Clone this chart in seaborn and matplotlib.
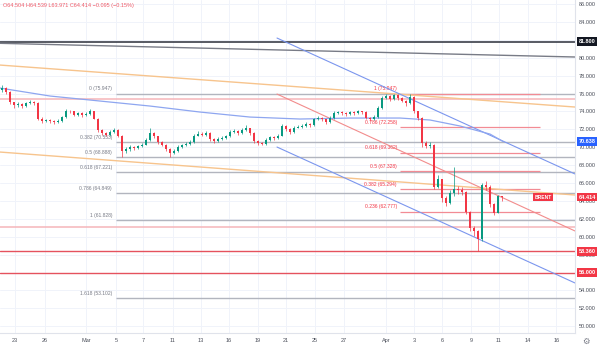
import matplotlib
matplotlib.use("Agg")
import numpy as np
import pandas as pd
import matplotlib.pyplot as plt
import seaborn as sns
from matplotlib.transforms import blended_transform_factory

# ---------------- data ----------------
closes = [76.6, 76.2, 75.0, 74.7, 74.8, 74.6, 74.9, 75.0, 74.9, 73.2,
          72.9, 73.0, 72.9, 72.8, 72.9, 73.4, 74.1, 74.0, 73.6, 73.8,
          73.6, 73.7, 74.0, 73.2, 71.9, 71.6, 71.4, 71.7, 71.9, 71.3,
          69.6, 69.8, 70.0, 69.9, 70.1, 70.3, 70.8, 71.6, 71.2, 70.6,
          70.3, 69.8, 69.4, 69.6, 70.0, 70.2, 70.4, 70.6, 71.3, 71.5,
          71.4, 71.6, 70.9, 70.7, 70.9, 71.0, 71.2, 71.7, 71.8, 71.6,
          71.9, 72.1, 71.6, 70.7, 70.5, 70.4, 70.8, 71.1, 71.0, 71.3,
          72.4, 72.0, 71.7, 72.2, 72.3, 72.4, 72.6, 72.5, 73.1, 73.3,
          73.1, 72.8, 73.3, 73.8, 73.9, 73.8, 73.7, 73.9, 73.8, 74.0,
          73.9, 73.3, 73.1, 73.4, 74.4, 75.5, 75.7, 75.4, 75.8, 75.5,
          75.2, 74.9, 75.6, 74.0, 73.3, 70.5, 70.1, 70.3, 65.6, 66.4,
          64.3, 63.8, 64.9, 65.3, 65.2, 65.0, 62.8, 61.0, 60.6, 59.7,
          65.8, 65.6, 63.6, 62.7, 64.509, 64.414]
highs = [76.9, 76.7, 76.3, 75.1, 75.0, 74.9, 75.1, 75.3, 75.2, 75.0,
         73.4, 73.2, 73.1, 73.0, 73.1, 73.5, 74.3, 74.2, 74.1, 73.9,
         73.9, 73.9, 74.3, 74.1, 73.3, 72.0, 71.7, 71.9, 72.1, 72.0,
         71.4, 70.0, 70.2, 70.1, 70.3, 70.5, 71.0, 72.1, 71.7, 71.3,
         70.7, 70.4, 69.9, 69.8, 70.2, 70.4, 70.6, 70.8, 71.5, 71.8,
         71.7, 71.8, 71.7, 71.0, 71.1, 71.2, 71.4, 71.9, 72.0, 71.9,
         72.1, 72.5, 72.2, 71.7, 70.8, 70.6, 71.0, 71.3, 71.2, 71.5,
         72.6, 72.5, 72.1, 72.4, 72.5, 72.6, 72.8, 72.7, 73.3, 73.5,
         73.4, 73.2, 73.5, 74.0, 74.1, 74.0, 73.9, 74.1, 74.0, 74.2,
         74.1, 74.0, 73.4, 73.6, 74.6, 75.7, 75.9, 75.8, 75.947, 75.9,
         75.6, 75.3, 75.9, 75.7, 74.1, 73.4, 70.7, 70.6, 70.4, 66.9,
         66.5, 64.5, 65.2, 67.8, 65.7, 65.5, 65.1, 62.9, 61.2, 60.8,
         66.0, 66.2, 65.8, 63.8, 64.7, 64.539]
lows = [76.2, 76.0, 74.8, 74.4, 74.5, 74.4, 74.5, 74.8, 74.7, 73.0,
        72.7, 72.8, 72.7, 72.6, 72.7, 72.8, 73.3, 73.8, 73.5, 73.5,
        73.4, 73.5, 73.6, 73.1, 71.7, 71.4, 71.2, 71.3, 71.6, 71.1,
        68.9, 69.4, 69.6, 69.7, 69.8, 70.0, 70.2, 70.7, 71.0, 70.4,
        70.1, 69.6, 68.9, 69.2, 69.5, 69.9, 70.1, 70.3, 70.5, 71.2,
        71.2, 71.3, 70.7, 70.5, 70.6, 70.8, 70.9, 71.1, 71.6, 71.4,
        71.5, 71.8, 71.4, 70.5, 70.3, 70.2, 70.3, 70.7, 70.8, 70.9,
        71.2, 71.8, 71.5, 71.6, 72.1, 72.2, 72.3, 72.3, 72.4, 73.0,
        72.9, 72.6, 72.7, 73.2, 73.7, 73.6, 73.5, 73.6, 73.6, 73.7,
        73.7, 73.1, 72.9, 73.0, 73.3, 74.3, 75.4, 75.2, 75.3, 75.3,
        75.0, 74.6, 74.8, 73.8, 73.0, 70.0, 69.9, 69.9, 65.3, 65.4,
        63.9, 63.4, 63.6, 64.6, 64.8, 64.7, 62.5, 60.6, 60.1, 58.36,
        59.5, 65.2, 63.3, 62.4, 62.6, 63.971]
first_open = 76.4
last_open = 64.504

tick_pos = [3.25, 10.75, 21, 28.5, 35.25, 42.75, 49.75, 56.75, 64, 71,
            78.25, 85.5, 96, 103.1, 110, 117.25, 124.25, 131.5, 138.6]
tick_labels = ["23", "26", "Mar", "5", "7", "11", "13", "16", "19", "21",
               "25", "27", "Apr", "3", "6", "9", "11", "14", "16"]

ma_idx = [-0.5, 12, 24.5, 37, 49.5, 62, 74.5, 87, 99.5, 107, 114.5, 122, 125.25]
ma_val = [76.61, 75.72, 75.16, 74.60, 73.93, 73.37, 73.15, 73.26, 73.26, 73.04, 72.37, 71.47, 70.638]

fib_left_levels = ["0", "0.382", "0.5", "0.618", "0.786", "1", "1.618"]
fib_left_prices = [75.947, 70.553, 68.888, 67.221, 64.849, 61.828, 53.102]
fib_right_levels = ["1", "0.786", "0.618", "0.5", "0.382", "0.236"]
fib_right_prices = [75.947, 72.258, 69.362, 67.328, 65.294, 62.777]

gray_slope_x, gray_slope_y = [-0.5, 143.25], [81.61, 80.08]
orange_up_x, orange_up_y = [-0.5, 143.25], [79.18, 74.49]
orange_lo_x, orange_lo_y = [-0.5, 143.25], [69.46, 64.66]
blue_up_x, blue_up_y = [68.75, 143.25], [82.20, 67.01]
blue_lo_x, blue_lo_y = [68.75, 143.25], [70.02, 54.83]
red_diag_x, red_diag_y = [68.75, 143.25], [75.94, 60.64]

red_levels_light = [75.35, 61.12]
red_levels = [58.36, 56.0]
black_level = 81.8
ma_last = 70.638
last_price = 64.414

# ---------------- build table ----------------
opens = [first_open] + closes[:-2] + [last_open]
df = pd.DataFrame({"i": np.arange(len(closes)), "open": opens, "close": closes,
                   "high": highs, "low": lows})
UP, DOWN = "#089981", "#f23645"
df["color"] = np.where(df["close"] >= df["open"], UP, DOWN)

sns.set_theme(style="white")
plt.rcParams["font.family"] = ["Liberation Sans", "DejaVu Sans"]

fig = plt.figure(figsize=(6, 3.52), dpi=100)
ax = fig.add_axes([0, 19 / 352, 575 / 600, 333 / 352])
ax.set_xlim(-0.5, 143.25)
ax.set_ylim(49.24, 86.45)

# grid
for t in tick_pos:
    ax.axvline(t, color="#f0f3fa", lw=0.7, zorder=0)
for v in range(50, 87, 2):
    ax.axhline(v, color="#f0f3fa", lw=0.7, zorder=0)

# full width levels
ax.axhline(black_level, color="#2a2e39", lw=1.1, zorder=2)
for v in red_levels_light:
    ax.axhline(v, color="#f5b5b9", lw=1.1, zorder=2)
for v in red_levels:
    ax.axhline(v, color="#e5525e", lw=1.0, zorder=2)

# left fib (gray)
for lvl, p in zip(fib_left_levels, fib_left_prices):
    ax.hlines(p, 28.5, 143.25, color="#b2b5be", lw=1.0, zorder=2)
    ax.annotate(f"{lvl} ({p:.3f})", (28.5, p), xytext=(-4, 5), textcoords="offset pixels",
                ha="right", va="center", fontsize=3.6, color="#787b86", zorder=2)

# right fib (red)
for lvl, p in zip(fib_right_levels, fib_right_prices):
    ax.hlines(p, 99.5, 134.5, color="#f28b94", lw=0.9, zorder=2)
    ax.annotate(f"{lvl} ({p:.3f})", (99.5, p), xytext=(-3, 5), textcoords="offset pixels",
                ha="right", va="center", fontsize=3.6, color="#f23645", zorder=2)

# trendlines
ax.plot(gray_slope_x, gray_slope_y, color="#787b86", lw=1.0, zorder=2)
ax.plot(orange_up_x, orange_up_y, color="#f7c48d", lw=1.0, zorder=2)
ax.plot(orange_lo_x, orange_lo_y, color="#f7c48d", lw=1.0, zorder=2)
ax.plot(blue_up_x, blue_up_y, color="#7b96ee", lw=0.8, zorder=2)
ax.plot(blue_lo_x, blue_lo_y, color="#7b96ee", lw=0.8, zorder=2)
ax.plot(red_diag_x, red_diag_y, color="#f28c8c", lw=0.8, zorder=2)

# moving average curve
ma_df = pd.DataFrame({"x": ma_idx, "y": ma_val})
sns.lineplot(data=ma_df, x="x", y="y", ax=ax, color="#8ea6f0", lw=0.9, zorder=3,
             sort=False, estimator=None)

# candles
ax.vlines(df["i"], df["low"], df["high"], colors=df["color"], lw=0.5, zorder=5)
body_bottom = np.minimum(df["open"], df["close"])
body_h = np.maximum(np.abs(df["close"] - df["open"]), 0.06)
ax.bar(df["i"], body_h, bottom=body_bottom, width=0.62, color=df["color"],
       linewidth=0, zorder=6)

# axes styling
ax.set_xlabel("")
ax.set_ylabel("")
ax.set_xticks(tick_pos)
ax.set_xticklabels(tick_labels)
ax.yaxis.tick_right()
ax.set_yticks(list(range(50, 87, 2)))
ax.set_yticklabels([f"{v:.3f}" for v in range(50, 87, 2)])
ax.tick_params(axis="y", length=0, pad=3, labelsize=4, labelcolor="#4a4e59")
ax.tick_params(axis="x", length=0, pad=3.5, labelsize=4, labelcolor="#4a4e59")
for s in ["top", "left"]:
    ax.spines[s].set_visible(False)
for s in ["right", "bottom"]:
    ax.spines[s].set_color("#e0e3eb")
    ax.spines[s].set_linewidth(0.8)

# price boxes on the axis
tr = blended_transform_factory(ax.transAxes, ax.transData)
def price_box(price, color):
    ax.text(587 / 575, price, f"{price:.3f}", transform=tr, ha="center", va="center",
            fontsize=4, color="white", fontweight="bold", clip_on=False, zorder=20,
            bbox=dict(boxstyle="square,pad=0.3", fc=color, ec="none"))

price_box(black_level, "#131722")
price_box(ma_last, "#2962ff")
price_box(last_price, "#f23645")
for v in red_levels:
    price_box(v, "#f23645")
ax.text(543 / 575, last_price, "BRENT", transform=tr, ha="center", va="center",
        fontsize=3.6, color="white", fontweight="bold", zorder=20,
        bbox=dict(boxstyle="square,pad=0.3", fc="#f23645", ec="none"))

# header
fig.text(3 / 600, 1 - 6 / 352, "O64.504 H64.539 L63.971 C64.414 \u22120.095 (\u22120.15%)",
         ha="left", va="center", fontsize=4, color="#ef5a67")
# settings icon
fig.text(586 / 600, 1 - 341 / 352, "\u2699", ha="center", va="center", fontsize=6,
         color="#787b86", family="DejaVu Sans")

fig.savefig("out.png", dpi=100, facecolor="white")
